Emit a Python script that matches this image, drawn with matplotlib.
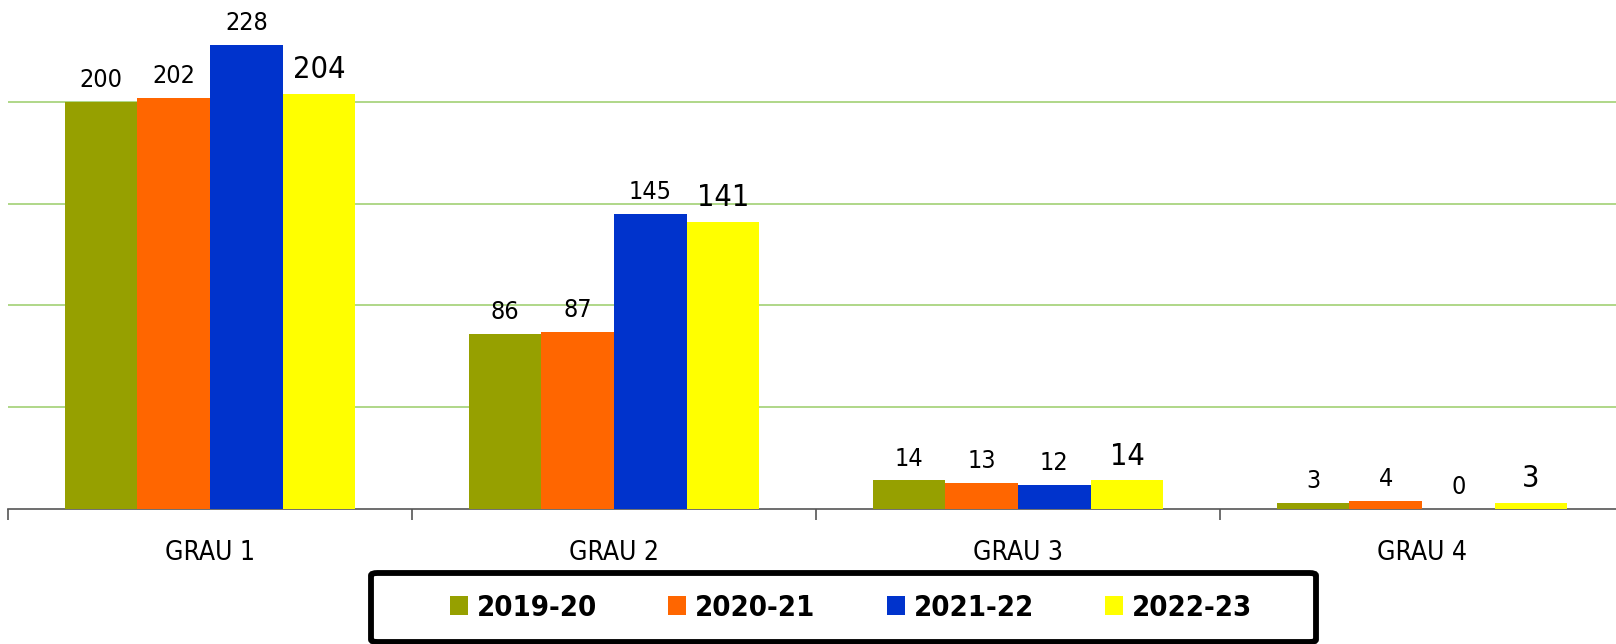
import numpy as np
import matplotlib
matplotlib.use("Agg")
import matplotlib.pyplot as plt
from matplotlib.patches import FancyBboxPatch

plt.rcParams['font.family'] = ['DejaVu Sans']
plt.rcParams['font.stretch'] = 'condensed'

# data
categories = ["GRAU 1", "GRAU 2", "GRAU 3", "GRAU 4"]
series_names = ["2019-20", "2020-21", "2021-22", "2022-23"]
v_2019 = [200, 86, 14, 3]
v_2020 = [202, 87, 13, 4]
v_2021 = [228, 145, 12, 0]
v_2022 = [204, 141, 14, 3]
values = [v_2019, v_2020, v_2021, v_2022]
colors = ["#96a000", "#ff6600", "#0033cc", "#ffff00"]

W, H = 1616, 644
fig = plt.figure(figsize=(W / 100, H / 100), dpi=100)
ax = fig.add_axes([8 / W, 135 / H, 1616 / W, 509 / H])

x = np.arange(len(categories))
bw = 0.18
handles = []
for i, (name, vals, c) in enumerate(zip(series_names, values, colors)):
    pos = x + (i - 1.5) * bw
    bars = ax.bar(pos, vals, bw, color=c, label=name, zorder=3)
    handles.append(bars)
    # last series gets the bigger labels
    fs = 22 if i == 3 else 18
    for p, v in zip(pos, vals):
        ax.annotate(str(v), (p, v), xytext=(0, 7), textcoords="offset points",
                    ha="center", va="bottom", fontsize=fs, color="black")

ax.set_xlim(-0.5, 3.5)
ax.set_ylim(0, 250)

ax.set_yticks([50, 100, 150, 200])
ax.yaxis.grid(True, color="#a9d47f", lw=1.3, zorder=0)
ax.tick_params(axis="y", left=False, labelleft=False)

ax.set_xticks(x)
ax.set_xticklabels(categories, fontsize=19)
ax.set_xticks(np.arange(-0.5, 4.0, 1.0), minor=True)
ax.tick_params(axis="x", which="major", length=0, pad=22)
ax.tick_params(axis="x", which="minor", length=8, width=1.2, color="#555555", direction="out")

for s in ["left", "top", "right"]:
    ax.spines[s].set_visible(False)
ax.spines["bottom"].set_color("#555555")
ax.spines["bottom"].set_linewidth(1.2)

# legend box drawn separately
box = FancyBboxPatch((371 / W, 2 / H), (1316 - 371) / W, (642 - 573) / H,
                     boxstyle="round,pad=0,rounding_size=0.004", transform=fig.transFigure,
                     fill=False, lw=4.2, ec="black")
fig.patches.append(box)

leg = fig.legend(handles=handles, labels=series_names, loc="center",
                 bbox_to_anchor=(851 / W, 1 - 608 / H), ncol=4, frameon=False,
                 prop={"weight": "bold", "size": 21}, handlelength=0.62, handleheight=0.62,
                 handletextpad=0.3, columnspacing=2.45)

fig.savefig("out.png", dpi=100)
